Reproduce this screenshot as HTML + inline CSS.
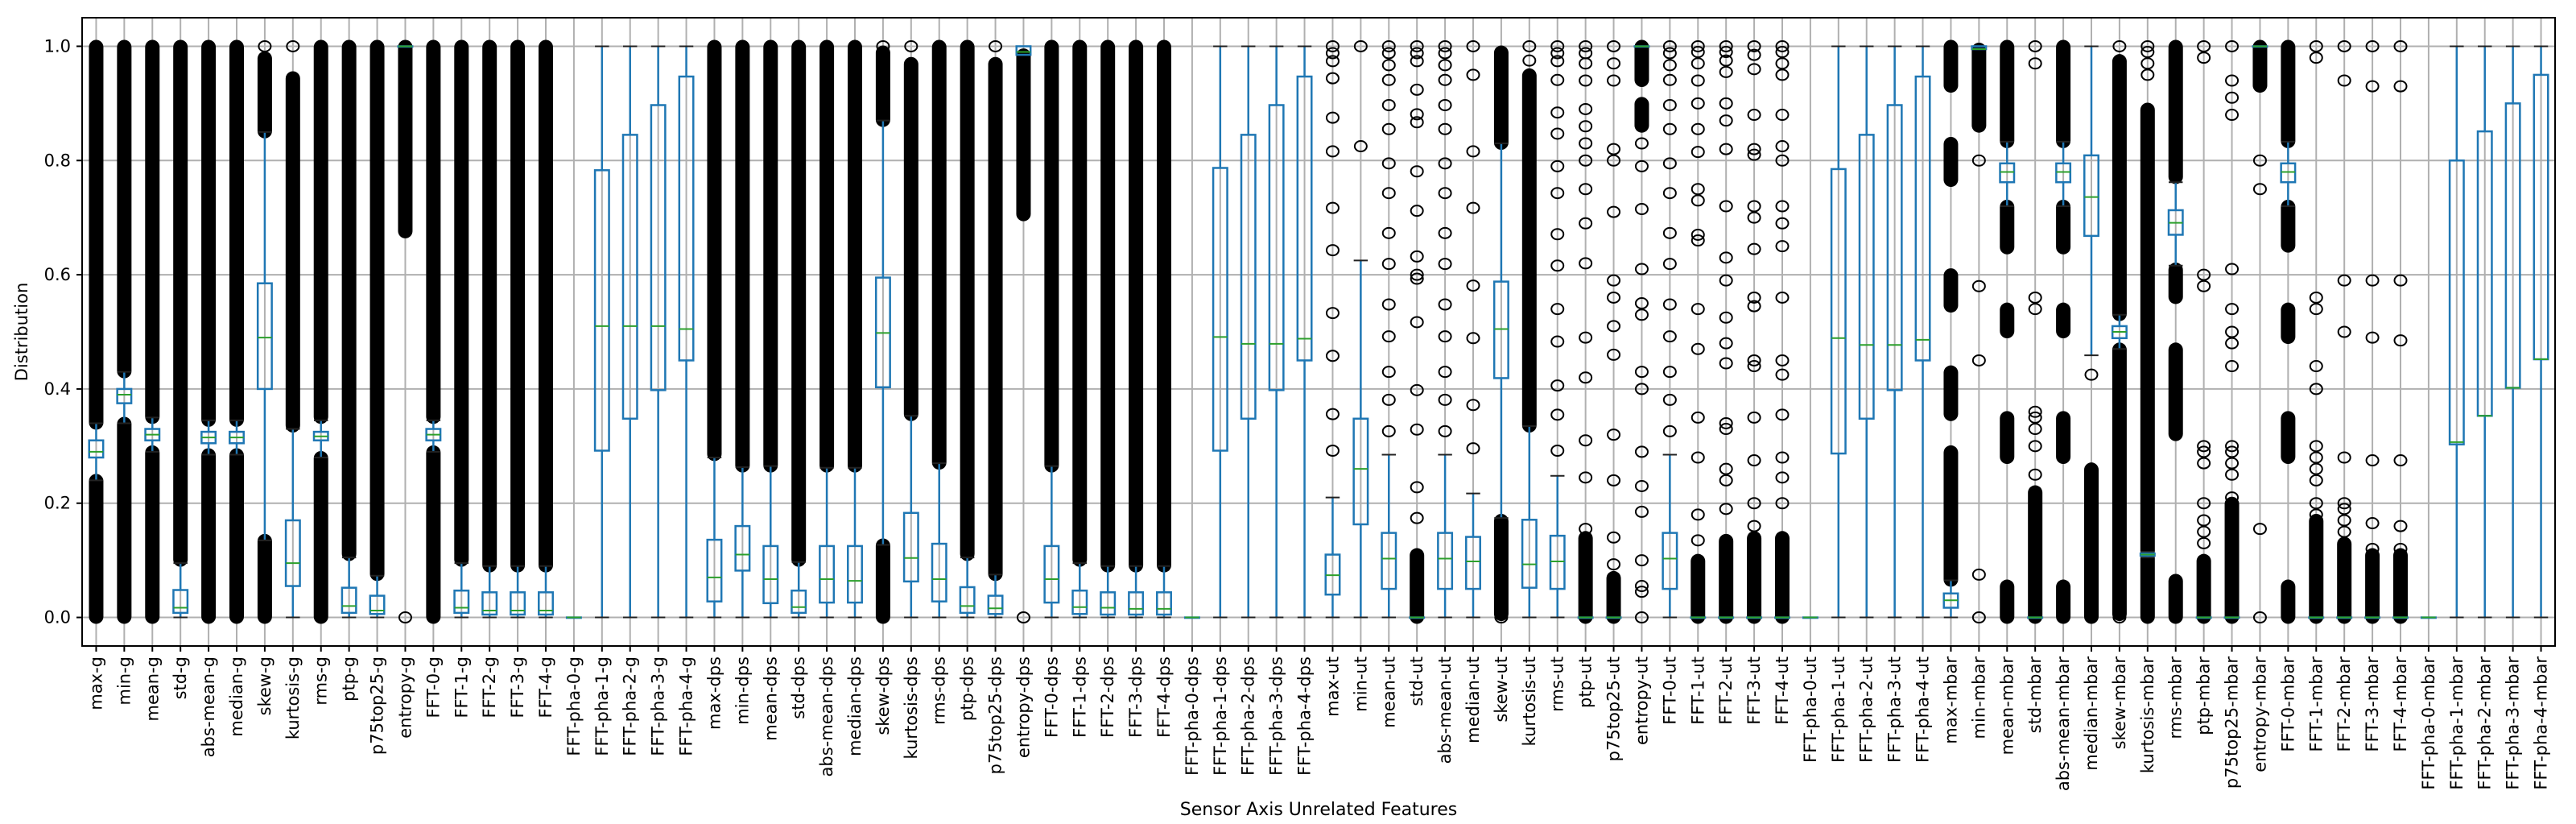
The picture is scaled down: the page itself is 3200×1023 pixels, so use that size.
<!DOCTYPE html>
<html><head><meta charset="utf-8"><title>Feature distribution boxplot</title>
<style>
html,body{margin:0;padding:0;background:#fff;}
svg{display:block;font-family:"DejaVu Sans","Liberation Sans",sans-serif;}
</style></head>
<body>
<svg id="chart" width="3200" height="1023" viewBox="0 0 3200 1023" xmlns="http://www.w3.org/2000/svg"></svg>
<script>
const categories=["max-g","min-g","mean-g","std-g","abs-mean-g","median-g","skew-g","kurtosis-g","rms-g","ptp-g","p75top25-g","entropy-g","FFT-0-g","FFT-1-g","FFT-2-g","FFT-3-g","FFT-4-g","FFT-pha-0-g","FFT-pha-1-g","FFT-pha-2-g","FFT-pha-3-g","FFT-pha-4-g",
"max-dps","min-dps","mean-dps","std-dps","abs-mean-dps","median-dps","skew-dps","kurtosis-dps","rms-dps","ptp-dps","p75top25-dps","entropy-dps","FFT-0-dps","FFT-1-dps","FFT-2-dps","FFT-3-dps","FFT-4-dps","FFT-pha-0-dps","FFT-pha-1-dps","FFT-pha-2-dps","FFT-pha-3-dps","FFT-pha-4-dps",
"max-ut","min-ut","mean-ut","std-ut","abs-mean-ut","median-ut","skew-ut","kurtosis-ut","rms-ut","ptp-ut","p75top25-ut","entropy-ut","FFT-0-ut","FFT-1-ut","FFT-2-ut","FFT-3-ut","FFT-4-ut","FFT-pha-0-ut","FFT-pha-1-ut","FFT-pha-2-ut","FFT-pha-3-ut","FFT-pha-4-ut",
"max-mbar","min-mbar","mean-mbar","std-mbar","abs-mean-mbar","median-mbar","skew-mbar","kurtosis-mbar","rms-mbar","ptp-mbar","p75top25-mbar","entropy-mbar","FFT-0-mbar","FFT-1-mbar","FFT-2-mbar","FFT-3-mbar","FFT-4-mbar","FFT-pha-0-mbar","FFT-pha-1-mbar","FFT-pha-2-mbar","FFT-pha-3-mbar","FFT-pha-4-mbar"];
const q1=[0.28,0.375,0.31,0.008,0.305,0.305,0.40,0.055,0.31,0.008,0.006,1.0,0.31,0.008,0.005,0.005,0.005,0,0.292,0.348,0.398,0.45,
0.028,0.082,0.025,0.008,0.026,0.026,0.403,0.063,0.028,0.008,0.006,0.985,0.026,0.006,0.005,0.005,0.005,0,0.292,0.348,0.398,0.45,
0.04,0.163,0.05,0,0.05,0.05,0.419,0.052,0.05,0,0,1.0,0.05,0,0,0,0,0,0.287,0.348,0.398,0.45,
0.017,0.995,0.762,0,0.762,0.668,0.489,0.108,0.67,0,0,1.0,0.762,0,0,0,0,0,0.303,0.353,0.402,0.452];
const medians=[0.29,0.39,0.32,0.017,0.315,0.315,0.49,0.095,0.317,0.02,0.012,1.0,0.32,0.017,0.012,0.012,0.012,0,0.51,0.51,0.51,0.505,
0.07,0.11,0.067,0.018,0.067,0.064,0.498,0.104,0.067,0.02,0.016,0.99,0.067,0.018,0.017,0.015,0.015,0,0.491,0.479,0.479,0.488,
0.074,0.26,0.103,0,0.103,0.098,0.505,0.093,0.098,0,0,1.0,0.103,0,0,0,0,0,0.489,0.477,0.477,0.486,
0.03,0.995,0.78,0,0.78,0.736,0.5,0.11,0.691,0,0,1.0,0.78,0,0,0,0,0,0.307,0.353,0.402,0.452];
const q3=[0.31,0.40,0.33,0.048,0.325,0.325,0.585,0.17,0.325,0.052,0.038,1.0,0.33,0.047,0.044,0.044,0.044,0,0.783,0.845,0.897,0.947,
0.136,0.16,0.125,0.047,0.125,0.125,0.595,0.183,0.129,0.053,0.038,1.0,0.125,0.047,0.044,0.044,0.044,0,0.787,0.845,0.897,0.947,
0.11,0.348,0.148,0,0.148,0.141,0.588,0.171,0.143,0,0,1.0,0.148,0,0,0,0,0,0.785,0.845,0.897,0.947,
0.042,1.0,0.795,0,0.795,0.809,0.51,0.112,0.713,0,0,1.0,0.795,0,0,0,0,0,0.8,0.851,0.9,0.95];
const whiskerLow=[0.24,0.34,0.29,0,0.285,0.285,0.135,0,0.28,0,0,1.0,0.29,0,0,0,0,0,0,0,0,0,
0,0,0,0,0,0,0.127,0,0,0,0,0.985,0,0,0,0,0,0,0,0,0,0,
0,0,0,0,0,0,0.174,0,0,0,0,1.0,0,0,0,0,0,0,0,0,0,0,
0,0.995,0.72,0,0.72,0.459,0.47,0.105,0.616,0,0,1.0,0.72,0,0,0,0,0,0,0,0,0];
const whiskerHigh=[0.34,0.43,0.35,0.095,0.345,0.345,0.85,0.33,0.345,0.105,0.073,1.0,0.345,0.095,0.09,0.09,0.09,0,1,1,1,1,
0.28,0.263,0.265,0.097,0.262,0.262,0.87,0.353,0.27,0.105,0.075,1.0,0.265,0.095,0.09,0.09,0.09,0,1,1,1,1,
0.21,0.625,0.285,0,0.285,0.217,0.83,0.335,0.248,0,0,1.0,0.285,0,0,0,0,0,1,1,1,1,
0.065,1.0,0.833,0,0.833,1.0,0.53,0.115,0.762,0,0,1.0,0.833,0,0,0,0,0,1,1,1,1];
const denseOutliers=[[[0,0.24],[0.34,1]],[[0,0.34],[0.43,1]],[[0,0.29],[0.35,1]],[[0.1,1]],[[0,0.285],[0.345,1]],[[0,0.285],[0.345,1]],[[0,0.135],[0.85,0.98]],[[0.335,0.945]],[[0,0.28],[0.35,1]],[[0.11,1]],[[0.075,1]],[[0.675,1]],[[0,0.29],[0.35,1]],[[0.1,1]],[[0.09,1]],[[0.09,1]],[[0.09,1]],[],[],[],[],[],
[[0.285,1]],[[0.265,1]],[[0.265,1]],[[0.1,1]],[[0.265,1]],[[0.265,1]],[[0,0.127],[0.87,0.99]],[[0.355,0.97]],[[0.27,1]],[[0.11,1]],[[0.075,0.97]],[[0.705,0.985]],[[0.265,1]],[[0.1,1]],[[0.09,1]],[[0.09,1]],[[0.09,1]],[],[],[],[],[],
[],[],[],[[0,0.11]],[],[],[[0.005,0.17],[0.83,0.99]],[[0.335,0.95]],[],[[0,0.14]],[[0,0.07]],[[0.94,1],[0.86,0.9]],[],[[0,0.1]],[[0,0.135]],[[0,0.14]],[[0,0.14]],[],[],[],[],[],
[[0.065,0.29],[0.355,0.43],[0.545,0.6],[0.765,0.83],[0.93,1]],[[0.86,0.995]],[[0,0.055],[0.28,0.35],[0.5,0.54],[0.647,0.72],[0.833,1]],[[0,0.22]],[[0,0.055],[0.28,0.35],[0.5,0.54],[0.647,0.72],[0.833,1]],[[0,0.26]],[[0.005,0.47],[0.53,0.975]],[[0,0.105],[0.115,0.89]],[[0,0.065],[0.32,0.47],[0.56,0.61],[0.77,1]],[[0,0.1]],[[0,0.2]],[[0.93,1]],[[0,0.055],[0.28,0.35],[0.49,0.54],[0.65,0.72],[0.833,1]],[[0,0.17]],[[0,0.13]],[[0,0.11]],[[0,0.11]],[],[],[],[],[]];
const sparseOutliers=[[],[],[],[],[],[],[1.0],[1.0],[],[],[],[0],[],[],[],[],[],[],[],[],[],[],
[],[],[],[],[],[],[1.0],[1.0],[],[],[1.0],[0],[],[],[],[],[],[],[],[],[],[],
[1.0,0.988,0.974,0.944,0.875,0.816,0.717,0.643,0.533,0.458,0.356,0.292],
[1.0,0.825],
[1.0,0.988,0.967,0.941,0.897,0.855,0.795,0.743,0.673,0.619,0.548,0.492,0.43,0.381,0.326],
[1.0,0.988,0.974,0.924,0.881,0.867,0.781,0.712,0.632,0.6,0.593,0.517,0.398,0.329,0.228,0.174],
[1.0,0.988,0.967,0.941,0.897,0.855,0.795,0.743,0.673,0.619,0.548,0.492,0.43,0.381,0.326],
[1.0,0.95,0.816,0.717,0.581,0.489,0.372,0.296],
[0],
[1.0,0.975],
[1.0,0.988,0.974,0.941,0.884,0.847,0.79,0.743,0.671,0.616,0.54,0.483,0.406,0.355,0.292],
[1.0,0.988,0.97,0.94,0.89,0.86,0.83,0.8,0.75,0.69,0.62,0.49,0.42,0.31,0.245,0.155],
[1.0,0.97,0.94,0.82,0.8,0.71,0.59,0.56,0.51,0.46,0.32,0.24,0.14,0.093,0.07],
[0.83,0.79,0.715,0.61,0.55,0.53,0.43,0.4,0.29,0.23,0.185,0.1,0.055,0.045,0],
[1.0,0.988,0.967,0.941,0.897,0.855,0.795,0.743,0.673,0.619,0.548,0.492,0.43,0.381,0.326],
[1.0,0.99,0.97,0.94,0.9,0.855,0.815,0.75,0.73,0.67,0.66,0.54,0.47,0.35,0.28,0.18,0.135],
[1.0,0.99,0.975,0.955,0.9,0.87,0.82,0.72,0.63,0.59,0.525,0.48,0.445,0.34,0.33,0.26,0.24,0.19],
[1.0,0.985,0.96,0.88,0.82,0.81,0.72,0.7,0.645,0.56,0.545,0.45,0.44,0.35,0.275,0.2,0.16],
[1.0,0.99,0.97,0.95,0.88,0.825,0.8,0.72,0.69,0.65,0.56,0.45,0.425,0.355,0.28,0.245,0.2],
[],[],[],[],[],
[],[0.8,0.58,0.45,0.075,0],[],[0.25,0.3,0.33,0.35,0.36,0.54,0.56,0.97,1.0],[],[0.425],[1.0,0],[0.95,0.97,0.99,1.0],[],[0.13,0.15,0.17,0.2,0.27,0.29,0.3,0.58,0.6,0.98,1.0],[0.21,0.25,0.27,0.29,0.3,0.44,0.48,0.5,0.54,0.61,0.88,0.91,0.94,1.0],[0.8,0.75,0.155,0],[],
[1.0,0.98,0.56,0.54,0.44,0.4,0.3,0.28,0.26,0.24,0.2,0.18],
[1.0,0.94,0.59,0.5,0.28,0.2,0.19,0.17,0.15],
[1.0,0.93,0.59,0.49,0.275,0.165,0.12],
[1.0,0.93,0.59,0.485,0.275,0.16,0.12],
[],[],[],[],[]];
const yTicks=[0,0.2,0.4,0.6,0.8,1.0];
const yTickLabels=["0.0","0.2","0.4","0.6","0.8","1.0"];

const NS="http://www.w3.org/2000/svg";
const svg=document.getElementById("chart");
const L=102,R=3174,T=22,B=802;
const yMin=-0.05,yMax=1.05;
const n=categories.length;
const step=(R-L)/n;
function xs(i){return L+(i+0.5)*step;}
function ys(v){return B-(v-yMin)/(yMax-yMin)*(B-T);}
function mk(tag,attrs,parent){const e=document.createElementNS(NS,tag);for(const k in attrs)e.setAttribute(k,attrs[k]);(parent||svg).appendChild(e);return e;}

const grid=mk("g",{});


yTicks.forEach((t,k)=>{
  const l=mk("line",{x1:L,x2:R,y1:ys(t),y2:ys(t),stroke:"#b0b0b0","stroke-width":2},grid);
  
  
});
categories.forEach((c,i)=>{
  const l=mk("line",{x1:xs(i),x2:xs(i),y1:T,y2:B,stroke:"#b0b0b0","stroke-width":2},grid);
  
  
});

const bw=step*0.5;
categories.forEach((c,i)=>{
  const g=mk("g",{});
  
  
  const x=xs(i);
  denseOutliers[i].forEach(r=>{
    const yt=ys(r[1])-8,yb=ys(r[0])+8;
    const d=mk("rect",{x:x-9,y:yt,width:18,height:yb-yt,rx:9,fill:"#000"},g);
    
    
  });
  sparseOutliers[i].forEach(v=>{
    const o=mk("ellipse",{cx:x,cy:ys(v),rx:7.5,ry:6.5,fill:"none",stroke:"#000","stroke-width":2},g);
    
    
  });
  const w1=mk("line",{x1:x,x2:x,y1:ys(whiskerLow[i]),y2:ys(q1[i]),stroke:"#1f77b4","stroke-width":2.5},g);
  
  
  const w2=mk("line",{x1:x,x2:x,y1:ys(q3[i]),y2:ys(whiskerHigh[i]),stroke:"#1f77b4","stroke-width":2.5},g);
  
  
  [whiskerLow[i],whiskerHigh[i]].forEach(v=>{
    const cp=mk("line",{x1:x-bw/2,x2:x+bw/2,y1:ys(v),y2:ys(v),stroke:"#222","stroke-width":2},g);
    
    
  });
  const bx=mk("rect",{x:x-bw/2,y:ys(q3[i]),width:bw,height:Math.max(0.5,ys(q1[i])-ys(q3[i])),fill:"none",stroke:"#1f77b4","stroke-width":2.5},g);
  
  
  const md=mk("line",{x1:x-bw/2,x2:x+bw/2,y1:ys(medians[i]),y2:ys(medians[i]),stroke:"#2ca02c","stroke-width":2},g);
  
  
});

const frame=mk("rect",{x:L,y:T,width:R-L,height:B-T,fill:"none",stroke:"#000","stroke-width":2});



const yax=mk("g",{});


yTicks.forEach((t,k)=>{
  mk("line",{x1:L-7,x2:L,y1:ys(t),y2:ys(t),stroke:"#000","stroke-width":2},yax);
  const tx=mk("text",{x:L-14,y:ys(t)+7,"text-anchor":"end","font-size":21,fill:"#000"},yax);
  tx.textContent=yTickLabels[k];
  
  
});
const xax=mk("g",{});


categories.forEach((c,i)=>{
  const x=xs(i);
  mk("line",{x1:x,x2:x,y1:B,y2:B+7,stroke:"#000","stroke-width":2},xax);
  const tx=mk("text",{x:0,y:0,"text-anchor":"end","font-size":21,fill:"#000",transform:`translate(${x+7},${B+13}) rotate(-90)`},xax);
  tx.textContent=c;
  
  
});
const yl=mk("text",{x:0,y:0,"text-anchor":"middle","font-size":21,fill:"#000",transform:`translate(34,${(T+B)/2}) rotate(-90)`});
yl.textContent="Distribution";


const xl=mk("text",{x:(L+R)/2,y:1012,"text-anchor":"middle","font-size":22,fill:"#000"});
xl.textContent="Sensor Axis Unrelated Features";


</script>
</body></html>
